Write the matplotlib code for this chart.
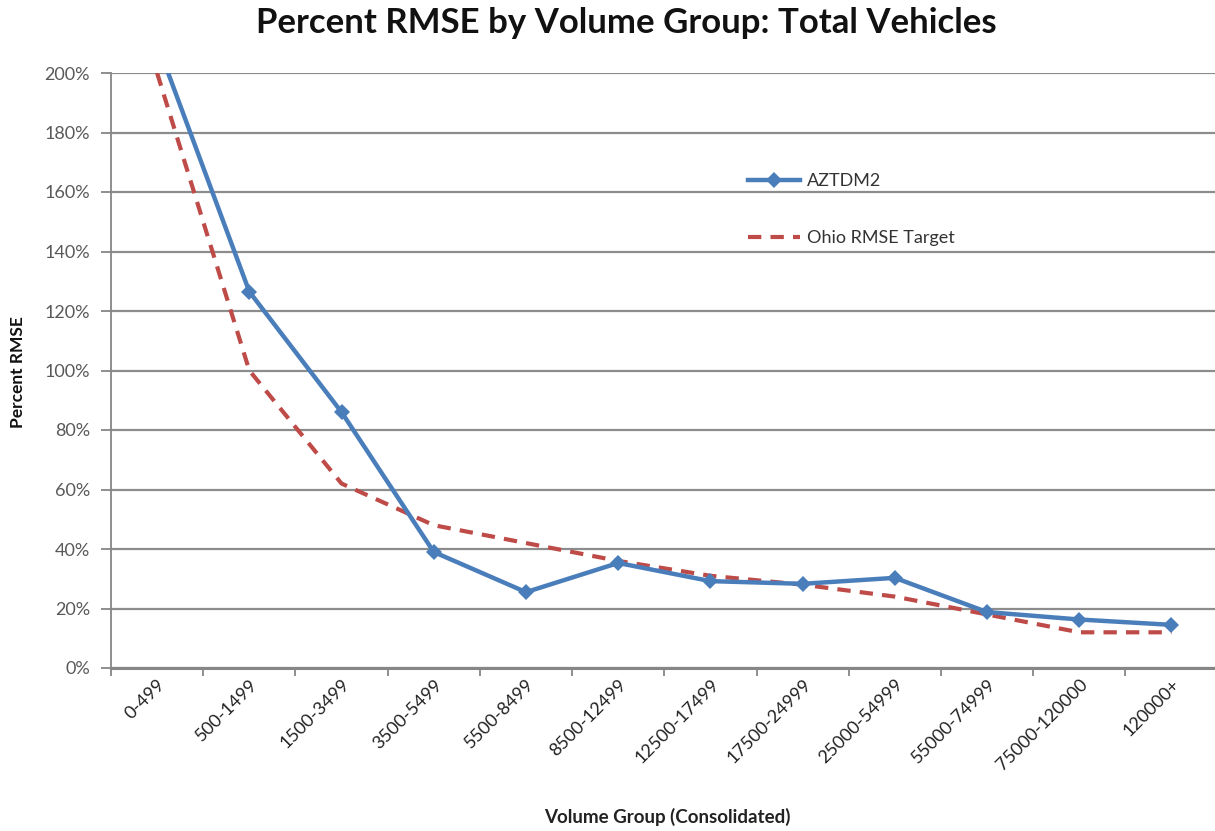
import matplotlib
matplotlib.use("Agg")
import matplotlib.pyplot as plt
from matplotlib.ticker import PercentFormatter, FixedLocator, NullFormatter

plt.rcParams['font.family'] = ['Lato', 'DejaVu Sans']

categories = ["0-499", "500-1499", "1500-3499", "3500-5499", "5500-8499",
              "8500-12499", "12500-17499", "17500-24999", "25000-54999",
              "55000-74999", "75000-120000", "120000+"]
aztdm2 = [210, 126.5, 86, 39, 25.5, 35.3, 29.2, 28.3, 30.3, 18.8, 16.3, 14.5]
ohio_target = [200, 100, 62, 48, 42, 36, 31, 28, 24, 18, 12, 12]
y_ticks = [0, 20, 40, 60, 80, 100, 120, 140, 160, 180, 200]

blue = "#4A7EBB"
red = "#BE4B48"
grid_col = "#8C8C8C"
axis_col = "#868686"
text_col = "#595959"

fig = plt.figure(figsize=(12.15, 8.31), dpi=100)
W, H = 1215, 831
left, right, top, bottom = 111, 1217.6, 73, 668
ax = fig.add_axes([left / W, 1 - bottom / H, (right - left) / W, (bottom - top) / H])

x = list(range(len(categories)))
ax.set_xlim(-0.5, len(categories) - 0.5)
ax.set_ylim(0, 200)

ax.plot(x, ohio_target, color=red, lw=3.0, ls=(0, (3.2, 2.2)),
        label="Ohio RMSE Target", zorder=3, solid_capstyle='butt')
ax.plot(x, aztdm2, color=blue, lw=3.2, marker='D', markersize=8,
        markeredgewidth=0, label="AZTDM2", zorder=4)

# horizontal gridlines
ax.set_yticks(y_ticks)
ax.yaxis.set_major_formatter(PercentFormatter(decimals=0))
ax.grid(axis='y', color=grid_col, lw=1.6, zorder=1)
ax.set_axisbelow(True)

# category boundaries carry the x tick marks; labels sit at category centres
ax.xaxis.set_major_locator(FixedLocator([i - 0.5 for i in range(len(categories) + 1)]))
ax.xaxis.set_major_formatter(NullFormatter())
ax.xaxis.set_minor_locator(FixedLocator(x))
ax.set_xticklabels(categories, minor=True)
ax.tick_params(axis='x', which='minor', length=0, pad=6)
ax.tick_params(axis='x', which='major', length=6, width=1.3, color=axis_col, direction='out')
ax.tick_params(axis='y', length=7, width=1.3, color=axis_col, direction='out',
               labelsize=13, labelcolor=text_col, pad=8)
for lbl in ax.get_xticklabels(minor=True):
    lbl.set_rotation(45)
    lbl.set_ha('right')
    lbl.set_va('top')
    lbl.set_rotation_mode('anchor')
    lbl.set_fontsize(13)
    lbl.set_color("#222222")

for s in ['top', 'right']:
    ax.spines[s].set_visible(False)
ax.spines['left'].set_color(axis_col)
ax.spines['left'].set_linewidth(1.3)
ax.spines['bottom'].set_color(axis_col)
ax.spines['bottom'].set_linewidth(2.2)

handles, labels = ax.get_legend_handles_labels()
leg = ax.legend(handles[::-1], labels[::-1], loc='upper left',
                bbox_to_anchor=((732 - left) / (right - left), 1 - (157 - top) / (bottom - top)),
                frameon=False, labelspacing=2.25, handlelength=2.85, handletextpad=0.4,
                fontsize=13)
for t in leg.get_texts():
    t.set_color("#333333")

fig.text(626 / W, 1 - 23 / H, "Percent RMSE by Volume Group: Total Vehicles",
         ha='center', va='center', fontsize=25, fontweight='bold', color="#111111")
fig.text(18 / W, 1 - 372 / H, "Percent RMSE", rotation=90, ha='center', va='center',
         fontsize=12.5, fontweight='bold', color="#111111")
fig.text(667 / W, 1 - 817 / H, "Volume Group (Consolidated)", ha='center', va='center',
         fontsize=13.5, fontweight='bold', color="#222222")

fig.savefig("out.png", dpi=100, facecolor='white')
